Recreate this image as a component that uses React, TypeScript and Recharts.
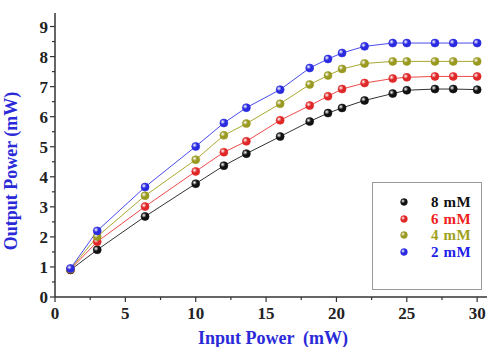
import React from "react";
import { LineChart, Line, XAxis, YAxis, Legend } from "recharts";

// Input power (mW) sampled in the measurement
const inputPower = [1.1, 3, 6.4, 10, 12, 13.6, 16, 18.1, 19.4, 20.4, 22, 24, 25, 27, 28.3, 30];

// output power (mW) per concentration
const out8mM = [0.9, 1.57, 2.68, 3.77, 4.37, 4.77, 5.34, 5.84, 6.12, 6.29, 6.54, 6.77, 6.88, 6.92, 6.92, 6.9];
const out6mM = [0.92, 1.84, 3.01, 4.18, 4.82, 5.18, 5.88, 6.37, 6.68, 6.92, 7.12, 7.27, 7.31, 7.34, 7.34, 7.34];
const out4mM = [0.93, 2.01, 3.37, 4.57, 5.38, 5.77, 6.43, 7.07, 7.37, 7.59, 7.77, 7.84, 7.84, 7.84, 7.84, 7.84];
const out2mM = [0.95, 2.2, 3.66, 5.01, 5.79, 6.3, 6.9, 7.62, 7.92, 8.12, 8.34, 8.45, 8.45, 8.45, 8.45, 8.45];

const xTicks = [0, 2.5, 5, 7.5, 10, 12.5, 15, 17.5, 20, 22.5, 25, 27.5, 30];
const yTicks = [0, 0.5, 1, 1.5, 2, 2.5, 3, 3.5, 4, 4.5, 5, 5.5, 6, 6.5, 7, 7.5, 8, 8.5, 9];

const series = [
  { key: "c8", name: "8 mM", values: out8mM, color: "#111111", line: "#333333", text: "#111111" },
  { key: "c6", name: "6 mM", values: out6mM, color: "#e02828", line: "#f04a4a", text: "#ee2020" },
  { key: "c4", name: "4 mM", values: out4mM, color: "#9a9a22", line: "#a8a830", text: "#a0a020" },
  { key: "c2", name: "2 mM", values: out2mM, color: "#2a2ae0", line: "#4a4af0", text: "#2020e8" },
];

const data = inputPower.map((x, i) => {
  const row: Record<string, number> = { x };
  series.forEach((s) => {
    row[s.key] = s.values[i];
  });
  return row;
});

const font = "'Liberation Serif', 'Times New Roman', serif";

const XTick = (props: any) => {
  const { x, y, payload } = props;
  const major = payload.value % 5 === 0;
  return (
    <g>
      <line x1={x} x2={x} y1={y} y2={y + (major ? 5 : 3)} stroke="#333" strokeWidth={1.2} />
      {major && (
        <text x={x} y={y + 22} textAnchor="middle" fontFamily={font} fontWeight="bold" fontSize={17} fill="#222">
          {payload.value}
        </text>
      )}
    </g>
  );
};

const YTick = (props: any) => {
  const { x, y, payload } = props;
  const major = Number.isInteger(payload.value);
  return (
    <g>
      <line x1={x} x2={x - (major ? 5 : 3)} y1={y} y2={y} stroke="#333" strokeWidth={1.2} />
      {major && (
        <text x={x - 7} y={y + 6} textAnchor="end" fontFamily={font} fontWeight="bold" fontSize={17} fill="#222">
          {payload.value}
        </text>
      )}
    </g>
  );
};

const XTitle = (props: any) => {
  const { x, y, width, height } = props.viewBox;
  return (
    <text
      x={x + width / 2 + 2}
      y={y + height - 3}
      textAnchor="middle"
      fontFamily={font}
      fontWeight="bold"
      fontSize={18}
      fill="#2a2ad8"
      style={{ whiteSpace: "pre" }}
    >
      Input Power  (mW)
    </text>
  );
};

const YTitle = (props: any) => {
  const { x, y, height } = props.viewBox;
  const cx = x + 17;
  const cy = y + height / 2 + 16;
  return (
    <text
      x={cx}
      y={cy}
      transform={`rotate(-90 ${cx} ${cy})`}
      textAnchor="middle"
      fontFamily={font}
      fontWeight="bold"
      fontSize={18}
      fill="#2a2ad8"
    >
      Output Power (mW)
    </text>
  );
};

const makeDot = (id: string, stroke: string) => (props: any) => {
  const { cx, cy, index } = props;
  if (cx == null || cy == null) return <g key={index} />;
  return <circle key={index} cx={cx} cy={cy} r={4} fill={`url(#${id})`} stroke={stroke} strokeWidth={0.6} />;
};

const LegendBox = () => (
  <div
    style={{
      border: "1px solid #999",
      background: "#fff",
      width: 110,
      height: 108,
      boxSizing: "border-box",
      paddingTop: 11,
      fontFamily: font,
      fontWeight: "bold",
      fontSize: 15,
    }}
  >
    {series.map((s) => (
      <div key={s.key} style={{ display: "flex", alignItems: "center", height: 16.5, overflow: "hidden" }}>
        <svg width={58} height={16}>
          <defs>
            <radialGradient id={`lg-${s.key}`} cx="35%" cy="35%" r="70%">
              <stop offset="0%" stopColor="#ffffff" />
              <stop offset="45%" stopColor={s.color} />
              <stop offset="100%" stopColor={s.color} />
            </radialGradient>
          </defs>
          <circle cx={31} cy={8} r={3.4} fill={`url(#lg-${s.key})`} stroke={s.color} strokeWidth={0.5} />
        </svg>
        <span style={{ color: s.text, lineHeight: "16px", letterSpacing: 0.6 }}>{s.name}</span>
      </div>
    ))}
  </div>
);

export default function App() {
  return (
    <div style={{ position: "absolute", left: 0, top: 0, width: 490, height: 347, background: "#fff" }}>
      <LineChart width={490} height={347} data={data} margin={{ top: 13, right: 3, bottom: 0, left: 0 }}>
        <defs>
          {series.map((s) => (
            <radialGradient key={s.key} id={`g-${s.key}`} cx="35%" cy="35%" r="70%">
              <stop offset="0%" stopColor="#ffffff" />
              <stop offset="45%" stopColor={s.color} />
              <stop offset="100%" stopColor={s.color} />
            </radialGradient>
          ))}
        </defs>
        <XAxis
          dataKey="x"
          type="number"
          domain={[0, 30.7]}
          ticks={xTicks}
          interval={0}
          height={50}
          tickSize={0}
          tickMargin={0}
          tickLine={false}
          tick={<XTick />}
          axisLine={{ stroke: "#333", strokeWidth: 1.5 }}
          label={<XTitle />}
        />
        <XAxis
          xAxisId="top"
          orientation="top"
          type="number"
          domain={[0, 30.7]}
          height={0}
          tick={false}
          tickLine={false}
          axisLine={{ stroke: "#9a9a9a", strokeWidth: 2.5 }}
        />
        <YAxis
          type="number"
          domain={[0, 9.45]}
          ticks={yTicks}
          interval={0}
          width={55}
          tickSize={0}
          tickMargin={0}
          tickLine={false}
          tick={<YTick />}
          axisLine={{ stroke: "#333", strokeWidth: 1.5 }}
          label={<YTitle />}
        />
        <YAxis
          yAxisId="right"
          orientation="right"
          type="number"
          domain={[0, 9.45]}
          width={0}
          tick={false}
          tickLine={false}
          axisLine={{ stroke: "#9a9a9a", strokeWidth: 2 }}
        />
        <Legend
          layout="vertical"
          align="center"
          verticalAlign="middle"
          wrapperStyle={{ position: "absolute", left: 372, top: 182, width: 110, height: 108 }}
          content={<LegendBox />}
        />
        {series.map((s) => (
          <Line
            key={s.key}
            dataKey={s.key}
            name={s.name}
            type="linear"
            stroke={s.line}
            strokeWidth={1}
            dot={makeDot(`g-${s.key}`, s.color)}
            activeDot={false}
            isAnimationActive={false}
          />
        ))}
      </LineChart>
    </div>
  );
}
